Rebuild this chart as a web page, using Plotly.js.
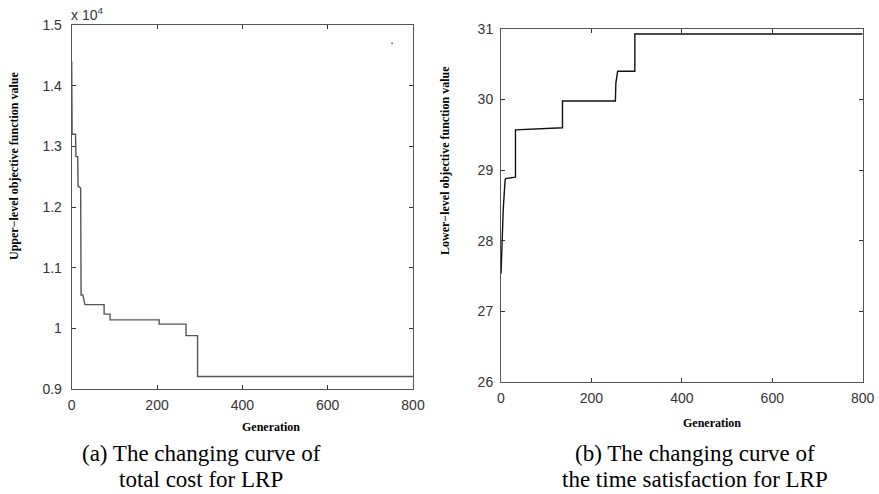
<!DOCTYPE html>
<html>
<head>
<meta charset="utf-8">
<script src="https://cdn.plot.ly/plotly-3.0.1.min.js"></script>
<style>
html,body{margin:0;padding:0;background:#fff;}
#chart{width:879px;height:494px;}
</style>
</head>
<body>
<div id="chart"></div>
<script>
// (a) Upper-level objective (total cost) vs generation
const genA  = [0, 1, 9, 9, 10, 14, 15, 20, 21, 22, 24, 26, 31, 76, 76, 90, 90, 205, 205, 268, 268, 295, 295, 800];
const costA = [14400, 13200, 13200, 13000, 12830, 12830, 12340, 12320, 12300, 10550, 10550, 10550, 10390, 10390, 10235, 10235, 10140, 10140, 10070, 10070, 9880, 9880, 9206, 9206];
// stray point visible in the top-right of panel (a)
const strayGen = [751];
const strayCost = [14700];

// (b) Lower-level objective (time satisfaction) vs generation
const genB = [0, 5, 9, 10, 32, 32, 136, 136, 253, 254, 258, 296, 296, 800];
const satB = [27.53, 28.45, 28.85, 28.88, 28.9, 29.57, 29.6, 29.98, 29.98, 30.23, 30.4, 30.4, 30.93, 30.93];

const xTicks = [0, 200, 400, 600, 800];
const xTickText = ['0', '200', '400', '600', '800'];
const yTicksA = [9000, 10000, 11000, 12000, 13000, 14000, 15000];
const yTickTextA = ['0.9', '1', '1.1', '1.2', '1.3', '1.4', '1.5'];
const yTicksB = [26, 27, 28, 29, 30, 31];
const yTickTextB = ['26', '27', '28', '29', '30', '31'];

const W = 879, H = 494;
const px = v => v / W;
const py = v => (H - v) / H;

const tickFont = {family: 'Liberation Sans Narrow, Liberation Sans, Arial, sans-serif', size: 14, color: '#333'};
const axisBase = {
  showline: true, linecolor: '#555', linewidth: 1, mirror: 'ticks',
  ticks: 'inside', ticklen: 4, tickcolor: '#333', tickwidth: 1,
  showgrid: false, zeroline: false, tickfont: tickFont, fixedrange: true
};

const traces = [
  {x: genA, y: costA, type: 'scatter', mode: 'lines', line: {color: '#555', width: 1.4}, xaxis: 'x', yaxis: 'y', hoverinfo: 'skip'},
  {x: strayGen, y: strayCost, type: 'scatter', mode: 'markers', marker: {color: '#777', size: 2}, xaxis: 'x', yaxis: 'y', hoverinfo: 'skip'},
  {x: genB, y: satB, type: 'scatter', mode: 'lines', line: {color: '#111', width: 1.4}, xaxis: 'x2', yaxis: 'y2', hoverinfo: 'skip'}
];

const titleFont = {family: 'Liberation Serif, Times New Roman, serif', size: 12, color: '#000'};
const capFont = {family: 'Liberation Serif, Times New Roman, serif', size: 23, color: '#000'};

const layout = {
  width: W, height: H,
  margin: {l: 0, r: 0, t: 0, b: 0},
  paper_bgcolor: '#fff', plot_bgcolor: '#fff',
  showlegend: false,
  xaxis: Object.assign({}, axisBase, {domain: [px(71.7), px(413)], range: [0, 800], tickvals: xTicks, ticktext: xTickText, anchor: 'y', ticklabelstandoff: 3}),
  yaxis: Object.assign({}, axisBase, {domain: [py(389), py(25)], range: [9000, 15000], tickvals: yTicksA, ticktext: yTickTextA, anchor: 'x', ticklabelstandoff: 6}),
  xaxis2: Object.assign({}, axisBase, {domain: [px(501), px(862.7)], range: [0, 800], tickvals: xTicks, ticktext: xTickText, anchor: 'y2', ticklabelstandoff: 3}),
  yaxis2: Object.assign({}, axisBase, {domain: [py(381.7), py(29)], range: [26, 31], tickvals: yTicksB, ticktext: yTickTextB, anchor: 'x2', ticklabelstandoff: 4}),
  annotations: [
    {text: 'x 10<sup>4</sup>', xref: 'paper', yref: 'paper', x: px(69), y: py(14), xanchor: 'left', yanchor: 'middle', showarrow: false, font: tickFont},
    {text: '<b>Upper\u2212level objective function value</b>', xref: 'paper', yref: 'paper', x: px(14), y: py(166), xanchor: 'center', yanchor: 'middle', textangle: -90, showarrow: false, font: titleFont},
    {text: '<b>Lower\u2212level objective function value</b>', xref: 'paper', yref: 'paper', x: px(445), y: py(161), xanchor: 'center', yanchor: 'middle', textangle: -90, showarrow: false, font: titleFont},
    {text: '<b>Generation</b>', xref: 'paper', yref: 'paper', x: px(271), y: py(427), xanchor: 'center', yanchor: 'middle', showarrow: false, font: titleFont},
    {text: '<b>Generation</b>', xref: 'paper', yref: 'paper', x: px(712), y: py(423), xanchor: 'center', yanchor: 'middle', showarrow: false, font: titleFont},
    {text: '(a) The changing curve of', xref: 'paper', yref: 'paper', x: px(201), y: py(453), xanchor: 'center', yanchor: 'middle', showarrow: false, font: capFont},
    {text: 'total cost for LRP', xref: 'paper', yref: 'paper', x: px(201), y: py(479), xanchor: 'center', yanchor: 'middle', showarrow: false, font: capFont},
    {text: '(b) The changing curve of', xref: 'paper', yref: 'paper', x: px(695), y: py(453), xanchor: 'center', yanchor: 'middle', showarrow: false, font: capFont},
    {text: 'the time satisfaction for LRP', xref: 'paper', yref: 'paper', x: px(695), y: py(479), xanchor: 'center', yanchor: 'middle', showarrow: false, font: capFont}
  ]
};

Plotly.newPlot('chart', traces, layout, {staticPlot: true, displayModeBar: false});
</script>
</body>
</html>
